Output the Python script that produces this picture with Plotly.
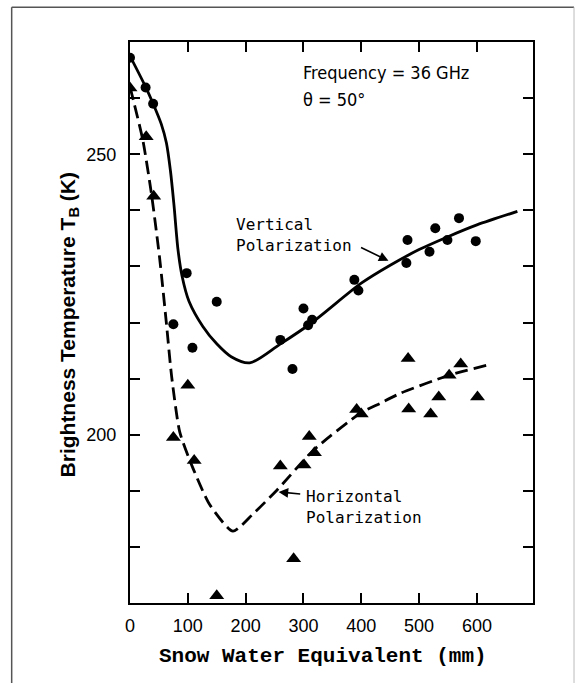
import plotly.graph_objects as go

# Measured brightness temperatures (K) versus snow water equivalent (mm)
v_swe = [0, 27, 40, 75, 98, 108, 150, 260, 281, 300, 308, 315, 388, 395, 478, 480, 518, 528, 549, 569, 598]
v_tb = [267.2, 261.9, 259.0, 219.7, 228.8, 215.5, 223.7, 216.9, 211.7, 222.5, 219.5, 220.5,
        227.6, 225.7, 230.6, 234.7, 232.6, 236.8, 234.7, 238.6, 234.5]

h_swe = [0, 28, 41, 75, 100, 111, 150, 260, 283, 301, 310, 319, 392, 400, 481, 482, 520, 534, 552, 572, 601]
h_tb = [261.8, 253.1, 242.5, 199.5, 208.8, 195.4, 171.3, 194.4, 177.9, 194.6, 199.7, 196.8,
        204.5, 203.7, 213.6, 204.6, 203.7, 206.7, 210.6, 212.6, 206.7]

# Fitted trend curves
vc_swe = [0, 27, 40, 54, 63, 70, 76, 83, 90, 102, 126, 150, 175, 207, 259, 315, 400, 450,
          500, 550, 600, 670]
vc_tb = [267.5, 262.0, 259.0, 255.4, 252.0, 247.0, 241.0, 233.0, 228.3, 223.8, 219.3, 216.2,
         213.9, 212.8, 216.1, 220.0, 227.0, 230.2, 233.0, 235.3, 237.4, 239.8]

hc_swe = [0, 22, 37, 51, 63, 72, 86, 109, 138, 178, 213, 254, 317, 398, 433, 468, 552, 622]
hc_tb = [262.0, 252.6, 243.0, 231.7, 219.8, 210.4, 200.5, 194.0, 187.5, 182.8, 185.9, 190.1,
         197.2, 203.8, 205.6, 207.4, 210.6, 212.5]

x_ticks = [0, 100, 200, 300, 400, 500, 600]
y_ticks = [170, 180, 190, 200, 210, 220, 230, 240, 250, 260, 270]
y_labels = ["", "", "", "200", "", "", "", "", "250", "", ""]

COND = "DejaVu Sans Condensed, Liberation Sans Narrow, Arial Narrow, DejaVu Sans, sans-serif"
SANS = "Liberation Sans, Arial, sans-serif"
MONO = "DejaVu Sans Mono, Liberation Mono, monospace"

fig = go.Figure()

fig.add_trace(go.Scatter(x=vc_swe, y=vc_tb, mode="lines",
                         line=dict(color="black", width=2.8, shape="spline", smoothing=0.8),
                         hoverinfo="skip"))
fig.add_trace(go.Scatter(x=hc_swe, y=hc_tb, mode="lines",
                         line=dict(color="black", width=2.8, shape="spline", smoothing=0.6,
                                   dash="13px,6px"),
                         hoverinfo="skip"))
fig.add_trace(go.Scatter(x=v_swe, y=v_tb, mode="markers",
                         marker=dict(symbol="circle", size=10, color="black")))
fig.add_trace(go.Scatter(x=h_swe, y=h_tb, mode="markers",
                         marker=dict(symbol="triangle-up", size=13, color="black")))

axis_common = dict(showline=True, linecolor="black", linewidth=2, mirror="ticks",
                   ticks="inside", ticklen=10, tickwidth=2, tickcolor="black",
                   showgrid=False, zeroline=False,
                   tickfont=dict(family=SANS, size=18, color="black"))

fig.update_xaxes(range=[0, 697], tickvals=x_ticks, ticktext=[str(v) for v in x_ticks],
                 ticklabelstandoff=5, **axis_common)
fig.update_yaxes(range=[170, 270], tickvals=y_ticks, ticktext=y_labels,
                 ticklabelstandoff=8, **axis_common)

annotations = [
    dict(text="Frequency = 36 GHz", x=295.5, y=264.5, xref="x", yref="y",
         xanchor="left", yanchor="middle", showarrow=False,
         font=dict(family=COND, size=18, color="black")),
    dict(text="θ = 50°", x=295.5, y=259.7, xref="x", yref="y",
         xanchor="left", yanchor="middle", showarrow=False,
         font=dict(family=COND, size=18, color="black")),
    dict(text="Vertical<br>Polarization", x=179.7, y=235.6, xref="x", yref="y",
         xanchor="left", yanchor="middle", align="left", showarrow=False,
         font=dict(family=MONO, size=16, color="black")),
    dict(text="Horizontal<br>Polarization", x=301.5, y=187.1, xref="x", yref="y",
         xanchor="left", yanchor="middle", align="left", showarrow=False,
         font=dict(family=MONO, size=16, color="black")),
    # pointer arrows
    dict(text="", x=447, y=231.0, xref="x", yref="y", ax=397, ay=233.5,
         axref="x", ayref="y", showarrow=True, arrowhead=2, arrowsize=1.2,
         arrowwidth=1.6, arrowcolor="black"),
    dict(text="", x=257, y=189.8, xref="x", yref="y", ax=297, ay=189.4,
         axref="x", ayref="y", showarrow=True, arrowhead=2, arrowsize=1.2,
         arrowwidth=1.6, arrowcolor="black"),
    # axis titles
    dict(text="Snow Water Equivalent (mm)", x=0.479, y=-0.0945, xref="paper", yref="paper",
         xanchor="center", yanchor="middle", showarrow=False,
         font=dict(family="Liberation Mono, Courier New, monospace", size=21, color="black",
                   weight="bold")),
    dict(text="Brightness Temperature T<sub>B</sub> (K)", x=-0.151, y=0.495,
         xref="paper", yref="paper", xanchor="center", yanchor="middle", textangle=-90,
         showarrow=False, font=dict(family=SANS, size=21, color="black", weight="bold")),
]

# thin outer frame around the figure
shapes = [
    dict(type="line", xref="paper", yref="paper", x0=-0.2936, x1=-0.2936, y0=-0.1426, y1=1.062,
         line=dict(color="#555", width=1.5)),
    dict(type="line", xref="paper", yref="paper", x0=-0.2936, x1=1.1018, y0=1.062, y1=1.062,
         line=dict(color="#555", width=1.5)),
    dict(type="line", xref="paper", yref="paper", x0=1.1018, x1=1.1018, y0=-0.1426, y1=1.062,
         line=dict(color="#bbb", width=1)),
]

fig.update_layout(width=581, height=683, autosize=False,
                  margin=dict(l=130, r=48, t=42, b=80),
                  paper_bgcolor="white", plot_bgcolor="white",
                  showlegend=False, annotations=annotations, shapes=shapes)

fig.write_html("out.html")
